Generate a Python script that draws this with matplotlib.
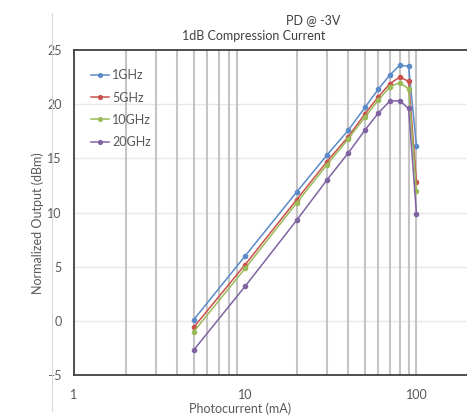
import matplotlib
matplotlib.use("Agg")
import matplotlib.pyplot as plt
from matplotlib.lines import Line2D

current = [5, 10, 20, 30, 40, 50, 60, 70, 80, 90, 100]
s_1ghz = [0.1, 6.0, 11.9, 15.3, 17.6, 19.7, 21.4, 22.7, 23.6, 23.5, 16.1]
s_5ghz = [-0.6, 5.2, 11.2, 14.7, 17.0, 19.1, 20.7, 21.9, 22.5, 22.1, 12.8]
s_10ghz = [-1.0, 4.85, 10.9, 14.4, 16.8, 18.8, 20.4, 21.6, 22.0, 21.4, 12.0]
s_20ghz = [-2.7, 3.2, 9.3, 13.0, 15.5, 17.6, 19.2, 20.3, 20.3, 19.6, 9.9]
labels = ["1GHz", "5GHz", "10GHz", "20GHz"]
series = [s_1ghz, s_5ghz, s_10ghz, s_20ghz]
colors = ["#5B8BC9", "#C9504D", "#9BBB59", "#8064A2"]
yticks = [-5, 0, 5, 10, 15, 20, 25]

plt.rcParams['font.family'] = ['Lato', 'DejaVu Sans']
W, H = 467, 419
fig = plt.figure(figsize=(W/100, H/100), dpi=100)
left, right, top, bottom = 74, 468, 50, 375
ax = fig.add_axes([left/W, 1-bottom/H, (right-left)/W, (bottom-top)/H])
ax.set_xscale('log')
ax.set_xlim(1, 200)
ax.set_ylim(-5, 25)

# grid
for v in list(range(2, 10)) + list(range(20, 101, 10)):
    ax.axvline(v, color='#C4C4C4', lw=1.5, zorder=1)
for v in yticks[1:-1]:
    ax.axhline(v, color='#E8E8E8', lw=1.0, zorder=0)

for s, c, lab in zip(series, colors, labels):
    ax.plot(current, s, color=c, lw=1.1, marker='o', ms=3.0, label=lab, zorder=3)

ax.set_yticks(yticks)
ax.set_xticks([1, 10, 100])
ax.set_xticklabels(['1', '10', '100'])
ax.minorticks_off()
ax.tick_params(length=0, labelsize=9, colors='#595959', pad=9)
ax.tick_params(axis='x', pad=10)
for sp in ['left', 'top', 'bottom']:
    ax.spines[sp].set_color('#404040')
    ax.spines[sp].set_linewidth(1.3)
ax.spines['right'].set_visible(False)

leg = ax.legend(loc='upper left', bbox_to_anchor=(0.015, 0.975), frameon=False,
                fontsize=9, labelspacing=0.82, handlelength=1.4, handletextpad=0.3,
                labelcolor='#595959', markerscale=0.9)

fig.text(313/W, 1-20/H, 'PD @ -3V', ha='center', va='center', fontsize=9, color='#404040')
fig.text(254/W, 1-36/H, '1dB Compression Current', ha='center', va='center', fontsize=9, color='#404040')
fig.text(240/W, 1-409/H, 'Photocurrent (mA)', ha='center', va='center', fontsize=9, color='#595959')
fig.text(38/W, 1-223/H, 'Normalized Output (dBm)', ha='center', va='center', fontsize=9,
         color='#595959', rotation=90)
fig.add_artist(Line2D([52/W, 52/W], [0.02, 0.97], color='#D9D9D9', lw=0.8))

fig.savefig('out.png', dpi=100)
